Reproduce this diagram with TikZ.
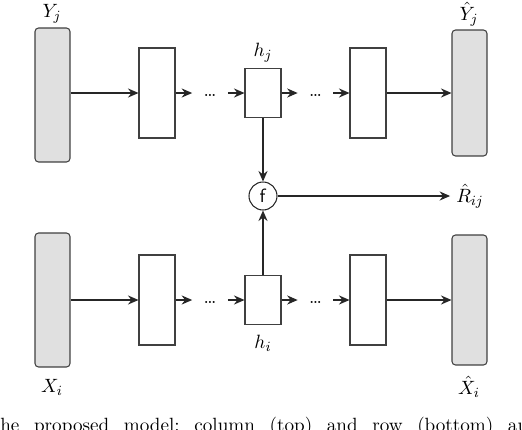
\documentclass[tikz,border=0pt]{standalone}
\usepackage{amsmath}
\usetikzlibrary{arrows.meta}
\tikzset{>={Stealth[length=6pt,width=5.2pt,inset=2pt]}}
\tikzset{
    inbox/.style={draw=black!75, fill=black!12, rounded corners=2pt, minimum width=0.7cm, inner sep=0pt, line width=0.6pt},
    layer/.style={draw=black!75, minimum width=0.72cm, minimum height=1.8cm, inner sep=0pt, line width=0.6pt},
    codebox/.style={draw=black!75, minimum width=0.72cm, minimum height=0.98cm, inner sep=0pt, line width=0.6pt},
    dotsnode/.style={minimum width=0.7cm, inner sep=0pt, text height=1ex, text depth=0pt},
    fnode/.style={draw=black!85, circle, minimum size=0.56cm, inner sep=0pt, line width=0.6pt},
    conn/.style={->, line width=0.6pt, black!85}
}

\begin{document}
\begin{tikzpicture}[x=0.02cm, y=-0.02cm, font=\fontsize{10.9}{13}\selectfont]
    \clip (0,0) rectangle (522,430);

    % column autoencoder (top)
    \node[inbox, minimum height=2.68cm] (yj) at (52.5,95) {};
    \node[layer] (t1) at (157,93) {};
    \node[dotsnode] (td1) at (210,93) {\dots};
    \node[codebox] (hj) at (263,93) {};
    \node[dotsnode] (td2) at (315.5,93) {\dots};
    \node[layer] (t4) at (368,93) {};
    \node[inbox, minimum height=2.52cm] (yjh) at (469.5,93) {};

    \node at (52,14) {$Y_j$};
    \node at (469,14) {$\hat{Y}_j$};
    \node at (263,53) {$h_j$};

    \draw[conn] (yj.east |- t1.west) -- (t1.west);
    \draw[conn] (t1.east) -- (td1.west);
    \draw[conn] (td1.east) -- (hj.west);
    \draw[conn] (hj.east) -- (td2.west);
    \draw[conn] (td2.east) -- (t4.west);
    \draw[conn] (t4.east) -- (yjh.west);

    % row autoencoder (bottom)
    \node[inbox, minimum height=2.68cm] (xi) at (52.5,300) {};
    \node[layer] (b1) at (157,300) {};
    \node[dotsnode] (bd1) at (210,300) {\dots};
    \node[codebox] (hi) at (263,300) {};
    \node[dotsnode] (bd2) at (315.5,300) {\dots};
    \node[layer] (b4) at (368,300) {};
    \node[inbox, minimum height=2.6cm] (xih) at (469.5,300) {};

    \node at (52,387) {$X_i$};
    \node at (469,387) {$\hat{X}_i$};
    \node at (263,343) {$h_i$};

    \draw[conn] (xi.east) -- (b1.west);
    \draw[conn] (b1.east) -- (bd1.west);
    \draw[conn] (bd1.east) -- (hi.west);
    \draw[conn] (hi.east) -- (bd2.west);
    \draw[conn] (bd2.east) -- (b4.west);
    \draw[conn] (b4.east) -- (xih.west);

    % combination of the two codes
    \node[fnode] (f) at (263,196) {\textsf{f}};
    \node (rij) at (470,196) {$\hat{R}_{ij}$};
    \draw[conn] (hj.south) -- (f.north);
    \draw[conn] (hi.north) -- (f.south);
    \draw[conn] (f.east) -- (rij.west);

    % caption, cut off by the frame
    \node[anchor=base west, inner sep=0pt] (cap) at (0,431)
        {\frenchspacing\makebox[10.9cm][s]{he proposed model: column (top) and row (bottom) auto}};
\end{tikzpicture}
\end{document}
